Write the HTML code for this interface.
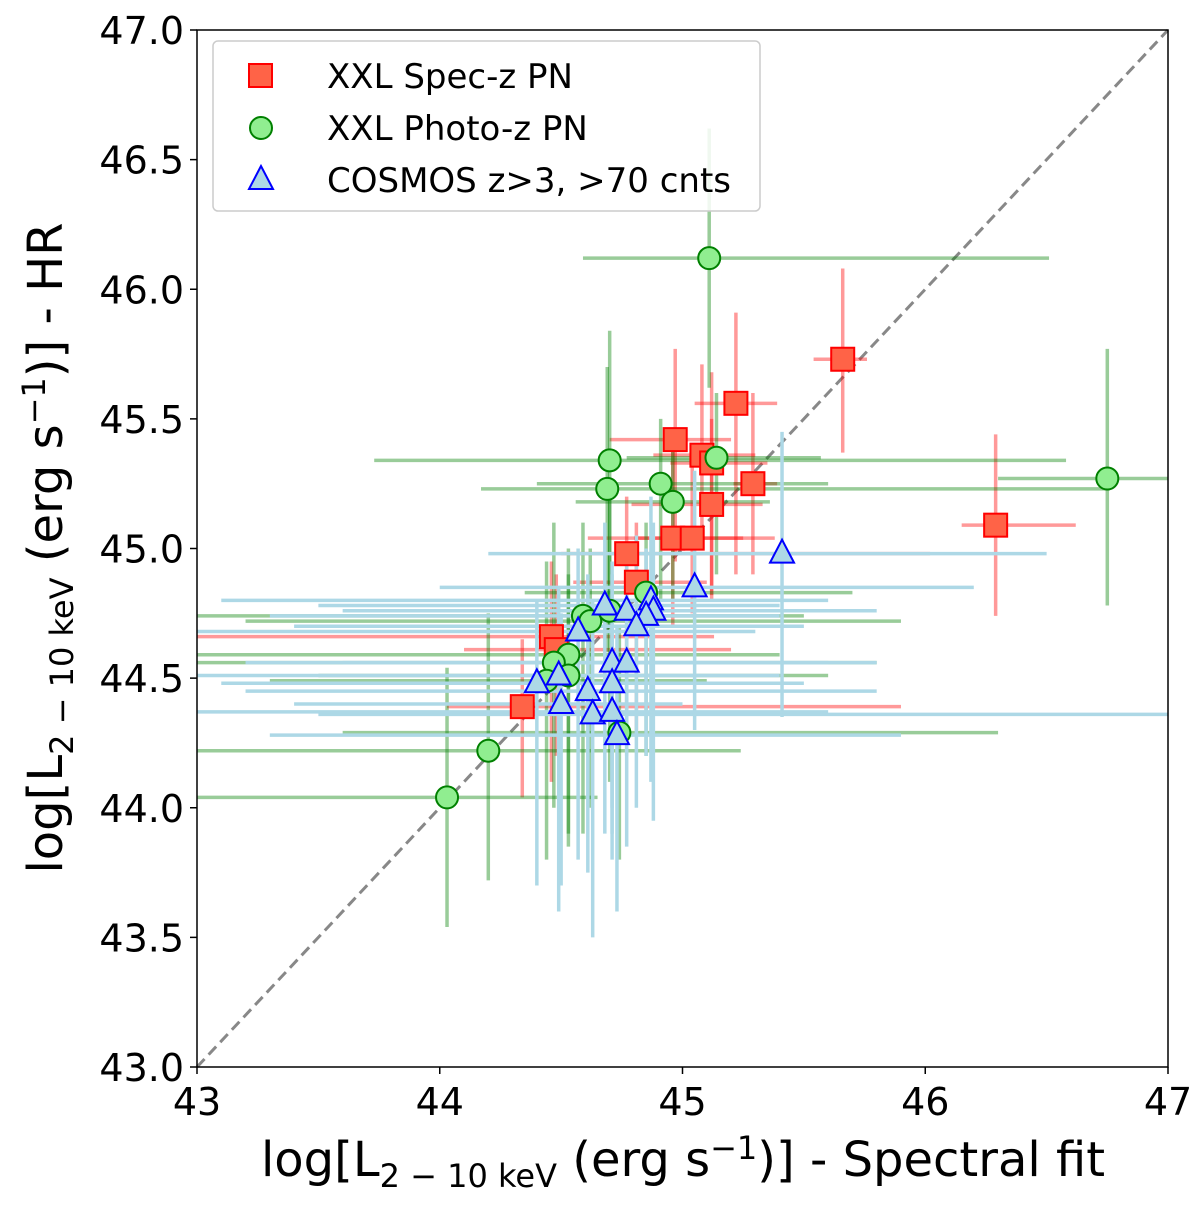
<!DOCTYPE html>
<html><head><meta charset="utf-8"><style>
html,body{margin:0;padding:0;background:#fff;}
svg{display:block;font-family:"DejaVu Sans","Liberation Sans",sans-serif;}
</style></head><body>
<svg id="chart" width="1200" height="1205" xmlns="http://www.w3.org/2000/svg">
<g id="bars"></g>
<g id="marks"></g>
<g id="axes"></g>
</svg>
<script>
// X-axis and Y-axis ticks
const xTicks = [43, 44, 45, 46, 47];
const yTicks = [43.0, 43.5, 44.0, 44.5, 45.0, 45.5, 46.0, 46.5, 47.0];
const yTickLabels = ["43.0","43.5","44.0","44.5","45.0","45.5","46.0","46.5","47.0"];

// XXL Spec-z PN (red squares)
const specX    = [45.66, 45.22, 44.97, 45.08, 45.12, 45.29, 45.12, 44.96, 45.04, 44.77, 44.81, 46.29, 44.46, 44.48, 44.34];
const specY    = [45.73, 45.56, 45.42, 45.36, 45.33, 45.25, 45.17, 45.04, 45.04, 44.98, 44.87, 45.09, 44.66, 44.61, 44.39];
const specXlo  = [45.54, 45.05, 44.70, 44.88, 44.95, 45.21, 44.79, 44.61, 44.80, 44.50, 44.55, 46.15, 43.00, 44.10, 44.03];
const specXhi  = [45.76, 45.39, 45.20, 45.30, 45.35, 45.39, 45.33, 45.38, 45.25, 46.02, 45.10, 46.62, 45.13, 45.20, 45.90];
const specYlo  = [45.37, 44.90, 44.95, 45.00, 44.82, 44.90, 44.80, 44.70, 44.75, 44.40, 44.30, 44.74, 44.10, 44.20, 44.04];
const specYhi  = [46.08, 45.91, 45.77, 45.71, 45.68, 45.60, 45.50, 45.40, 45.35, 45.20, 45.10, 45.44, 44.95, 44.90, 44.65];

// XXL Photo-z PN (green circles)
const photX   = [45.11, 44.70, 44.69, 45.14, 44.91, 44.96, 46.75, 44.85, 44.59, 44.62, 44.70, 44.53, 44.47, 44.53, 44.44, 44.74, 44.20, 44.03];
const photY   = [46.12, 45.34, 45.23, 45.35, 45.25, 45.18, 45.27, 44.83, 44.74, 44.72, 44.76, 44.59, 44.56, 44.51, 44.49, 44.29, 44.22, 44.04];
const photXlo = [44.59, 43.73, 44.17, 44.77, 44.40, 44.56, 46.30, 44.35, 43.00, 43.20, 44.10, 43.00, 43.00, 43.50, 43.30, 43.60, 43.00, 43.00];
const photXhi = [46.51, 46.58, 46.76, 45.57, 45.60, 45.36, 47.00, 45.70, 45.50, 45.90, 45.20, 45.40, 45.80, 45.60, 45.10, 46.30, 45.24, 44.65];
const photYlo = [45.62, 44.70, 44.60, 44.90, 44.80, 44.80, 44.78, 44.20, 43.90, 44.00, 44.10, 43.90, 44.00, 43.85, 43.80, 43.80, 43.72, 43.54];
const photYhi = [46.62, 45.84, 45.70, 45.60, 45.50, 45.45, 45.77, 45.10, 45.10, 45.00, 45.20, 45.00, 45.10, 44.90, 44.95, 44.70, 44.75, 44.54];

// COSMOS z>3, >70 cnts (blue triangles)
const cosX   = [45.41, 45.05, 44.68, 44.77, 44.87, 44.88, 44.85, 44.81, 44.57, 44.71, 44.77, 44.49, 44.40, 44.71, 44.61, 44.50, 44.63, 44.71, 44.73];
const cosY   = [44.98, 44.85, 44.78, 44.76, 44.80, 44.76, 44.74, 44.70, 44.68, 44.56, 44.56, 44.51, 44.48, 44.48, 44.45, 44.40, 44.36, 44.37, 44.28];
const cosXlo = [44.20, 44.00, 43.50, 43.60, 43.10, 43.70, 43.30, 43.40, 43.00, 43.20, 43.60, 43.00, 43.10, 43.30, 43.20, 43.40, 43.50, 43.00, 43.30];
const cosXhi = [46.50, 46.20, 45.40, 45.80, 45.60, 45.70, 45.40, 45.50, 45.30, 45.80, 45.60, 45.40, 45.50, 45.40, 45.80, 45.00, 47.00, 45.60, 45.90];
const cosYlo = [44.35, 44.30, 43.90, 44.20, 44.10, 43.95, 44.20, 44.00, 43.80, 44.00, 43.85, 43.60, 43.70, 43.80, 43.75, 43.70, 43.50, 43.90, 43.60];
const cosYhi = [45.45, 45.30, 45.10, 45.00, 45.20, 45.10, 45.00, 45.05, 45.00, 44.95, 44.90, 44.85, 44.80, 44.90, 44.90, 44.75, 44.80, 44.70, 44.70];

const L = 197, R = 1168, T = 30, B = 1067;
const sx = v => L + (v - 43) / 4 * (R - L);
const sy = v => B - (v - 43) / 4 * (B - T);
const NS = "http://www.w3.org/2000/svg";
function mk(tag, attrs, parent) {
  const e = document.createElementNS(NS, tag);
  for (const k in attrs) e.setAttribute(k, attrs[k]);
  parent.appendChild(e);
  return e;
}
const gb = document.getElementById('bars');
const gm = document.getElementById('marks');
const ga = document.getElementById('axes');

function clampX(v){ return Math.max(43, Math.min(47, v)); }
function drawBars(X, Y, xlo, xhi, ylo, yhi, color, name) {
  for (let i = 0; i < X.length; i++) {
    const h = mk('line', {x1: sx(clampX(xlo[i])), x2: sx(clampX(xhi[i])), y1: sy(Y[i]), y2: sy(Y[i]), stroke: color, 'stroke-width': 3.5}, gb);
    
    
    const v = mk('line', {x1: sx(X[i]), x2: sx(X[i]), y1: sy(ylo[i]), y2: sy(yhi[i]), stroke: color, 'stroke-width': 3.5}, gb);
    
    
  }
}
function square(cx, cy, p) { return mk('rect', {x: cx - 11.5, y: cy - 11.5, width: 23, height: 23, fill: '#ff6347', stroke: '#ff0000', 'stroke-width': 2}, p); }
function circle(cx, cy, p) { return mk('circle', {cx: cx, cy: cy, r: 11, fill: '#90ee90', stroke: '#008000', 'stroke-width': 2}, p); }
function tri(cx, cy, p) { return mk('polygon', {points: `${cx},${cy-14} ${cx-12},${cy+9} ${cx+12},${cy+9}`, fill: '#add8e6', stroke: '#0000ff', 'stroke-width': 2}, p); }

// diagonal
const d = mk('line', {x1: sx(43), y1: sy(43), x2: sx(47), y2: sy(47), stroke: '#888', 'stroke-width': 3, 'stroke-dasharray': '11,6'}, gb);



drawBars(specX, specY, specXlo, specXhi, specYlo, specYhi, 'rgba(255,0,0,0.4)', 'spec');
for (let i = 0; i < specX.length; i++) {
  const e = square(sx(specX[i]), sy(specY[i]), gm);
  
  
}
drawBars(photX, photY, photXlo, photXhi, photYlo, photYhi, 'rgba(0,128,0,0.4)', 'photo');
for (let i = 0; i < photX.length; i++) {
  const e = circle(sx(photX[i]), sy(photY[i]), gm);
  
  
}
drawBars(cosX, cosY, cosXlo, cosXhi, cosYlo, cosYhi, 'rgba(173,216,230,1)', 'cosmos');
for (let i = 0; i < cosX.length; i++) {
  const e = tri(sx(cosX[i]), sy(cosY[i]), gm);
  
  
}

// frame
const fr = mk('rect', {x: L, y: T, width: R - L, height: B - T, fill: 'none', stroke: '#000', 'stroke-width': 1.5}, ga);


xTicks.forEach(v => {
  const t = mk('line', {x1: sx(v), x2: sx(v), y1: B, y2: B + 7, stroke: '#000', 'stroke-width': 1.5}, ga);
  
  
  const l = mk('text', {x: sx(v), y: B + 48, 'font-size': 38, 'text-anchor': 'middle'}, ga);
  l.textContent = String(v);
  
  
});
yTicks.forEach((v, i) => {
  const t = mk('line', {x1: L - 7, x2: L, y1: sy(v), y2: sy(v), stroke: '#000', 'stroke-width': 1.5}, ga);
  
  
  const l = mk('text', {x: L - 13, y: sy(v) + 14, 'font-size': 38, 'text-anchor': 'end'}, ga);
  l.textContent = yTickLabels[i];
  
  
});
</script>
<svg style="position:absolute;left:0;top:0" width="1200" height="1205" xmlns="http://www.w3.org/2000/svg" font-family="DejaVu Sans, Liberation Sans, sans-serif">
<text x="683" y="1176" font-size="48" text-anchor="middle">log[L<tspan font-size="32" dy="11">2 − 10 keV</tspan><tspan dy="-11"> (erg s</tspan><tspan font-size="32" dy="-17">−1</tspan><tspan dy="17">)] - Spectral fit</tspan></text>
<text transform="translate(62,548) rotate(-90)" font-size="48" text-anchor="middle">log[L<tspan font-size="32" dy="11">2 − 10 keV</tspan><tspan dy="-11"> (erg s</tspan><tspan font-size="32" dy="-17">−1</tspan><tspan dy="17">)] - HR</tspan></text>
<g>
<rect x="213" y="41" width="547" height="170" rx="5" fill="#fff" fill-opacity="0.85" stroke="#ccc" stroke-width="1.5"/>
<rect x="249" y="64" width="23" height="23" fill="#ff6347" stroke="#ff0000" stroke-width="2"/>
<text x="327" y="88" font-size="34">XXL Spec-z PN</text>
<circle cx="261" cy="128" r="11" fill="#90ee90" stroke="#008000" stroke-width="2"/>
<text x="327" y="140" font-size="34">XXL Photo-z PN</text>
<polygon points="261,166 249,189 273,189" fill="#add8e6" stroke="#0000ff" stroke-width="2"/>
<text x="327" y="192" font-size="34">COSMOS z&gt;3, &gt;70 cnts</text>
</g>
</svg>
</body></html>
